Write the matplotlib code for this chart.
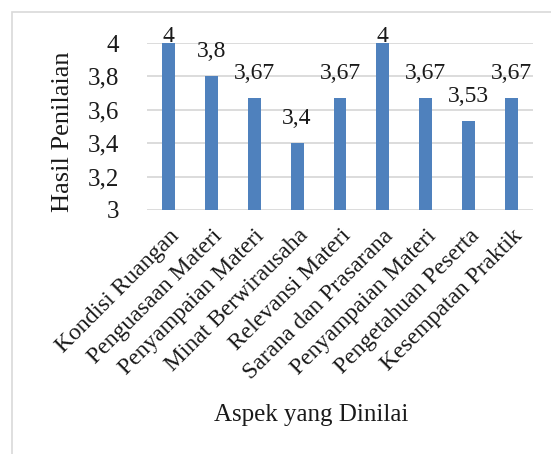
import matplotlib
matplotlib.use("Agg")
import matplotlib.pyplot as plt
from matplotlib.patches import Rectangle

categories = [
    "Kondisi Ruangan", "Penguasaan Materi", "Penyampaian Materi",
    "Minat Berwirausaha", "Relevansi Materi", "Sarana dan Prasarana",
    "Penyampaian Materi", "Pengetahuan Peserta", "Kesempatan Praktik",
]
values = [4, 3.8, 3.67, 3.4, 3.67, 4, 3.67, 3.53, 3.67]
value_labels = ["4", "3,8", "3,67", "3,4", "3,67", "4", "3,67", "3,53", "3,67"]
yticks = [3, 3.2, 3.4, 3.6, 3.8, 4]
ytick_labels = ["3", "3,2", "3,4", "3,6", "3,8", "4"]

W, H, DPI = 551, 454, 100
plt.rcParams["font.family"] = ["Liberation Serif", "DejaVu Serif"]
TXT = "#1a1a1a"

fig = plt.figure(figsize=(W / DPI, H / DPI), dpi=DPI)
fig.patch.set_facecolor("white")

# chart-area frame
fig.add_artist(Rectangle((12 / W, -0.1), 1.2, 1 - 12 / H + 0.1,
                         transform=fig.transFigure, fill=False,
                         edgecolor="#D9D9D9", linewidth=1.2))

ax = fig.add_axes([147 / W, 1 - 210 / H, (533 - 147) / W, (210 - 43) / H])
x = list(range(len(categories)))
ax.bar(x, values, width=0.3, color="#4F81BD", zorder=3)
ax.set_xlim(-0.5, len(categories) - 0.5)
ax.set_ylim(3, 4)
ax.set_yticks(yticks)
ax.set_yticklabels(ytick_labels, fontsize=18, color=TXT)
ax.tick_params(axis="y", length=0, pad=20)
ax.tick_params(axis="x", length=0, pad=11)
ax.set_xticks(x)
ax.set_xticklabels(categories, rotation=45, ha="right",
                   rotation_mode="anchor", fontsize=17, color=TXT)
ax.grid(axis="y", color="#D9D9D9", linewidth=1.3, zorder=0)
for s in ax.spines.values():
    s.set_visible(False)

for xi, v, lab in zip(x, values, value_labels):
    off = 1 if v >= 4 else 14
    ax.annotate(lab, (xi, v), xytext=(0, off), textcoords="offset points",
                ha="center", va="baseline", fontsize=17, color=TXT,
                annotation_clip=False)

fig.text(63 / W, 1 - 132 / H, "Hasil Penilaian", rotation=90, ha="center",
         va="center", fontsize=19, color=TXT)
fig.text(311 / W, 1 - 415 / H, "Aspek yang Dinilai", ha="center",
         va="center", fontsize=18, color=TXT)

fig.savefig("out.png", dpi=DPI)
